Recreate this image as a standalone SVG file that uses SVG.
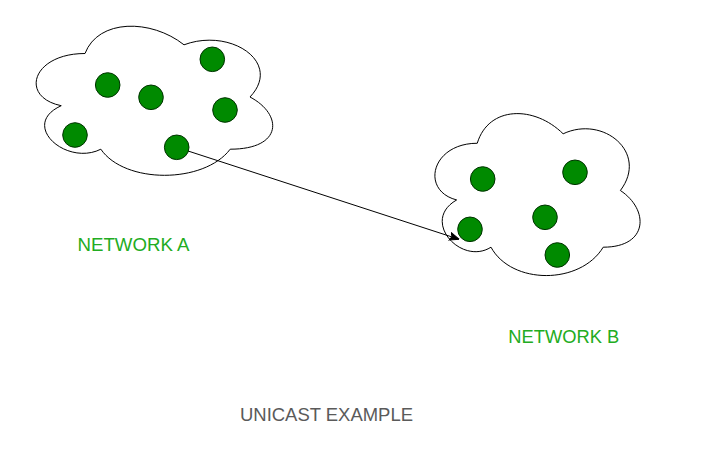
<svg xmlns="http://www.w3.org/2000/svg" width="707" height="457" viewBox="0 0 707 457">
<style>
.cloud{fill:#fff;stroke:#000;stroke-width:1}
.host{fill:#008a00;stroke:#003300;stroke-width:1}
.lbl{font-family:"Liberation Sans",Arial,sans-serif;font-size:18.5px;fill:#22ac22}
.title{font-family:"Liberation Sans",Arial,sans-serif;font-size:18.5px;fill:#5a5a5a}
.edge{fill:none;stroke:#000;stroke-width:1}
</style>
<defs>
<marker id="arr" viewBox="0 0 10 10" refX="9" refY="5" markerWidth="10" markerHeight="10" markerUnits="userSpaceOnUse" orient="auto">
<path d="M0,1 L10,5 L0,9 L2.5,5 Z" fill="#000" stroke="#000" stroke-width="1"/>
</marker>
</defs>
<rect width="707" height="457" fill="#fff"/>
<g id="networkA">
<path class="cloud" transform="translate(19,10) scale(264,174)" vector-effect="non-scaling-stroke" d="M0.25,0.25 C0.05,0.25 0,0.5 0.16,0.55 C0,0.66 0.18,0.9 0.31,0.8 C0.4,1 0.7,1 0.8,0.8 C1,0.8 1,0.6 0.875,0.5 C1,0.3 0.8,0.1 0.625,0.2 C0.5,0.05 0.3,0.05 0.25,0.25 Z"/>
</g>
<g id="networkB">
<path class="cloud" transform="translate(420,96) scale(229,189)" vector-effect="non-scaling-stroke" d="M0.25,0.25 C0.05,0.25 0,0.5 0.16,0.55 C0,0.66 0.18,0.9 0.31,0.8 C0.4,1 0.7,1 0.8,0.8 C1,0.8 1,0.6 0.875,0.5 C1,0.3 0.8,0.1 0.625,0.2 C0.5,0.05 0.3,0.05 0.25,0.25 Z"/>
</g>
<g id="connectors">
<path class="edge" d="M176.7,147.3 L458.3,239" marker-end="url(#arr)"/>
</g>
<g id="hostsA">
<circle id="a1" class="host" cx="107.7" cy="85" r="12.3"/>
<circle id="a2" class="host" cx="151" cy="97.3" r="12.3"/>
<circle id="a3" class="host" cx="212.3" cy="59.3" r="12.3"/>
<circle id="a4" class="host" cx="225" cy="110" r="12.3"/>
<circle id="a5" class="host" cx="75" cy="135" r="12.3"/>
<circle id="a6" class="host" cx="176.7" cy="147.3" r="12.3"/>
</g>
<g id="hostsB">
<circle id="b1" class="host" cx="482.7" cy="179" r="12.3"/>
<circle id="b2" class="host" cx="575" cy="172.3" r="12.3"/>
<circle id="b3" class="host" cx="545" cy="217.3" r="12.3"/>
<circle id="b4" class="host" cx="470" cy="229.3" r="12.3"/>
<circle id="b5" class="host" cx="557.3" cy="255" r="12.3"/>
</g>
<g id="labelA"><text class="lbl" x="77.5" y="250.5" textLength="112" lengthAdjust="spacingAndGlyphs">NETWORK A</text></g>
<g id="labelB"><text class="lbl" x="508.3" y="343" textLength="111" lengthAdjust="spacingAndGlyphs">NETWORK B</text></g>
<g id="caption"><text class="title" x="240" y="421" textLength="173" lengthAdjust="spacingAndGlyphs">UNICAST EXAMPLE</text></g>
</svg>
